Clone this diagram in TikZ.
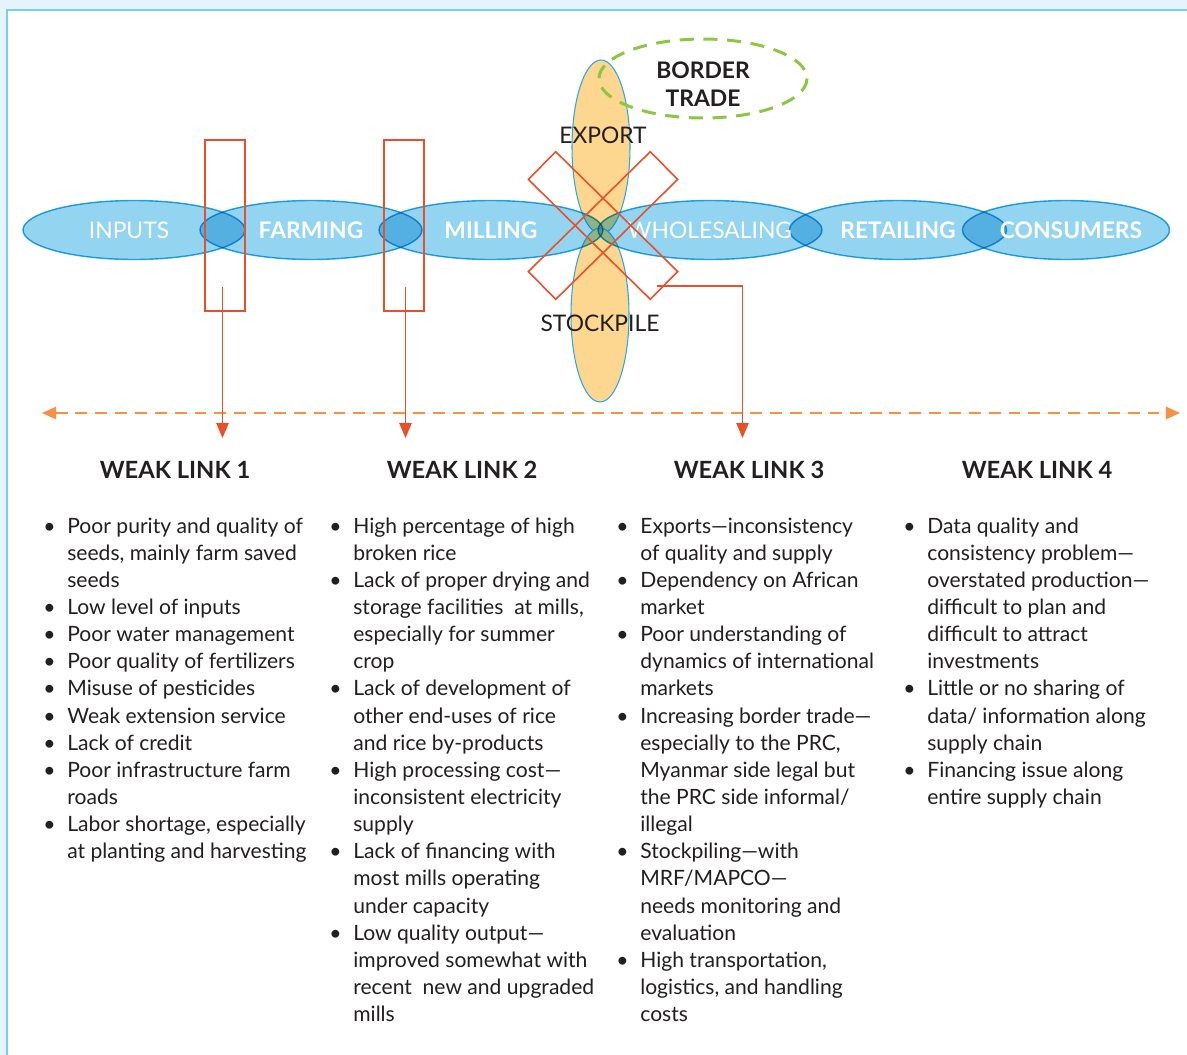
\documentclass[tikz,border=0pt]{standalone}
\usepackage{fontspec}
\setmainfont{Lato}
\usepackage{tikz}
\usetikzlibrary{arrows.meta,positioning,shapes.geometric}

\definecolor{paneltint}{RGB}{229,243,251}
\definecolor{panelline}{RGB}{120,205,240}
\definecolor{stageblue}{RGB}{147,212,240}
\definecolor{edgeblue}{RGB}{41,171,226}
\definecolor{hubfill}{RGB}{253,214,143}
\definecolor{crossred}{RGB}{233,80,42}
\definecolor{trendorange}{RGB}{246,146,70}
\definecolor{bordergreen}{RGB}{141,198,63}
\definecolor{ink}{RGB}{35,31,32}

\begin{document}
\begin{tikzpicture}[x=0.02cm,y=-0.02cm,
stage/.style={ellipse,draw=edgeblue,line width=0.8pt,fill=stageblue,inner sep=0pt,minimum height=1.18cm},
stagetext/.style={text=white,font=\fontsize{13}{15}\selectfont},
stagebold/.style={text=white,font=\fontsize{13}{15}\selectfont\bfseries},
hub/.style={ellipse,draw=edgeblue,line width=0.6pt,fill=hubfill,inner sep=0pt,minimum width=1.16cm,minimum height=3.48cm},
hubtext/.style={text=ink,font=\fontsize{13}{15}\selectfont},
linkbox/.style={draw=crossred,line width=1.1pt,minimum width=0.8cm,minimum height=3.42cm,inner sep=0pt},
crossbar/.style={draw=crossred,line width=0.9pt,minimum width=3.42cm,minimum height=0.78cm,inner sep=0pt},
pointer/.style={-{Triangle[length=8.5pt,width=7pt]},draw=crossred,line width=0.85pt},
trend/.style={{Triangle[length=8pt,width=7pt]}-{Triangle[length=8pt,width=7pt]},draw=trendorange,fill=trendorange,line width=1.1pt,dash pattern=on 6.8pt off 4.5pt},
heading/.style={text=ink,font=\fontsize{13.5}{16}\selectfont\bfseries},
weaklist/.style={anchor=base west,inner sep=0pt,text=ink,font=\fontsize{12}{15.45}\selectfont}]

    % frame
    \useasboundingbox (0,0) rectangle (1187,1055);
    \clip (0,0) rectangle (1187,1055);
    \fill[paneltint] (0,0) rectangle (1187,1055);
    \draw[panelline,fill=white,line width=1.2pt] (7,10) rectangle (1200,1070);

    % export / stockpile hub
    \node[hub] (export) at (601,147) {};
    \node[hub] (stockpile) at (600,315) {};

    % value chain
    \begin{scope}[blend mode=multiply]
    \node[stage,minimum width=4.44cm] (inputs) at (134,230) {};
    \node[stage,minimum width=4.44cm] (farming) at (311,230) {};
    \node[stage,minimum width=4.48cm] (milling) at (491,230) {};
    \node[stage,minimum width=4.48cm] (wholesaling) at (710,230) {};
    \node[stage,minimum width=4.34cm] (retailing) at (898,230) {};
    \node[stage,minimum width=4.14cm] (consumers) at (1066,230) {};
    \end{scope}

    \node[stagetext] at ([xshift=-0.1cm]inputs) {INPUTS};
    \node[stagebold] at (farming) {FARMING};
    \node[stagebold] at (milling) {MILLING};
    \node[stagetext] at (wholesaling) {WHOLESALING};
    \node[stagebold] at (retailing) {RETAILING};
    \node[stagebold] at ([xshift=0.1cm]consumers) {CONSUMERS};

    \node[hubtext] (exportlabel) at (603,135) {EXPORT};
    \node[hubtext] (stocklabel) at (600,323) {STOCKPILE};

    % border trade
    \draw[bordergreen,line width=1.7pt,dash pattern=on 8pt off 5.5pt] (703,78.5) ellipse [x radius=104,y radius=39.5];
    \node[text=ink,font=\fontsize{13}{15.9}\selectfont\bfseries,align=center] (border) at (703,84) {BORDER\\TRADE};

    % weak links
    \node[linkbox] (box1) at (225,225.5) {};
    \node[linkbox] (box2) at (404,225.5) {};
    \node[crossbar,rotate=-44.5] (barA) at (603,225.5) {};
    \node[crossbar,rotate=44.5] (barB) at (603,225.5) {};

    \draw[trend] (42,413) coordinate (westend) -- (1180,413) coordinate (eastend);

    \coordinate (s1) at (222.5,287);
    \coordinate (t1) at (222.5,438);
    \coordinate (s2) at (405.5,287);
    \coordinate (t2) at (405.5,438);
    \coordinate (s3) at (656.5,286);
    \coordinate (t3) at (742.5,438);
    \draw[pointer] (s1) -- (t1);
    \draw[pointer] (s2) -- (t2);
    \draw[pointer] (s3) -| (t3);

    \node[heading] (wl1) at (175,470) {WEAK LINK 1};
    \node[heading] (wl2) at (462,470) {WEAK LINK 2};
    \node[heading] (wl3) at (749,470) {WEAK LINK 3};
    \node[heading] (wl4) at (1037,470) {WEAK LINK 4};

    \node[weaklist] (list1) at (43,533) {\begin{tabular}[t]{@{}p{0.48cm}@{}l@{}}
    \textbullet & Poor purity and quality of\\
     & seeds, mainly farm saved\\
     & seeds\\
    \textbullet & Low level of inputs\\
    \textbullet & Poor water management\\
    \textbullet & Poor quality of fertilizers\\
    \textbullet & Misuse of pesticides\\
    \textbullet & Weak extension service\\
    \textbullet & Lack of credit\\
    \textbullet & Poor infrastructure farm\\
     & roads\\
    \textbullet & Labor shortage, especially\\
     & at planting and harvesting
    \end{tabular}};

    \node[weaklist] (list2) at (329,533) {\begin{tabular}[t]{@{}p{0.48cm}@{}l@{}}
    \textbullet & High percentage of high\\
     & broken rice\\
    \textbullet & Lack of proper drying and\\
     & storage facilities\ \ at mills,\\
     & especially for summer\\
     & crop\\
    \textbullet & Lack of development of\\
     & other end-uses of rice\\
     & and rice by-products\\
    \textbullet & High processing cost---\\
     & inconsistent electricity\\
     & supply\\
    \textbullet & Lack of financing with\\
     & most mills operating\\
     & under capacity\\
    \textbullet & Low quality output---\\
     & improved somewhat with\\
     & recent\ \ new and upgraded\\
     & mills
    \end{tabular}};

    \node[weaklist] (list3) at (616,533) {\begin{tabular}[t]{@{}p{0.48cm}@{}l@{}}
    \textbullet & Exports---inconsistency\\
     & of quality and supply\\
    \textbullet & Dependency on African\\
     & market\\
    \textbullet & Poor understanding of\\
     & dynamics of international\\
     & markets\\
    \textbullet & Increasing border trade---\\
     & especially to the PRC,\\
     & Myanmar side legal but\\
     & the PRC side informal/\\
     & illegal\\
    \textbullet & Stockpiling---with\\
     & MRF/MAPCO---\\
     & needs monitoring and\\
     & evaluation\\
    \textbullet & High transportation,\\
     & logistics, and handling\\
     & costs
    \end{tabular}};

    \node[weaklist] (list4) at (903,533) {\begin{tabular}[t]{@{}p{0.48cm}@{}l@{}}
    \textbullet & Data quality and\\
     & consistency problem---\\
     & overstated production---\\
     & difficult to plan and\\
     & difficult to attract\\
     & investments\\
    \textbullet & Little or no sharing of\\
     & data/ information along\\
     & supply chain\\
    \textbullet & Financing issue along\\
     & entire supply chain
    \end{tabular}};

\end{tikzpicture}
\end{document}
